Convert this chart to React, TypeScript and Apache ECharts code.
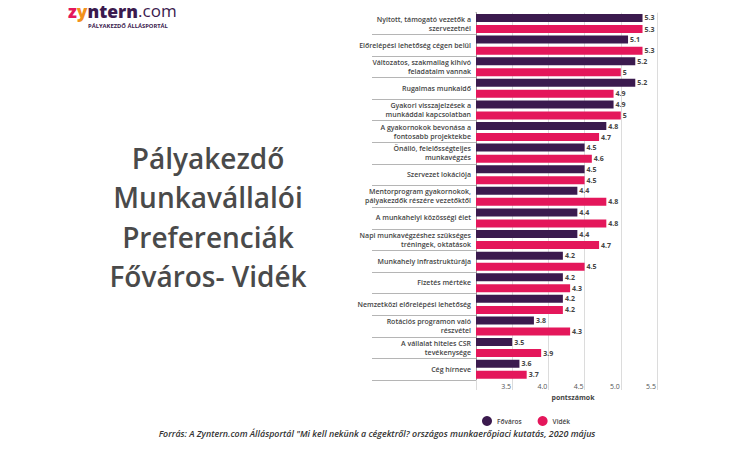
import React, { useEffect, useRef } from "react";
import * as echarts from "echarts";

const categories = [
  "Nyitott, támogató vezetők a\nszervezetnél",
  "Előrelépési lehetőség cégen belül",
  "Változatos, szakmailag kihívó\nfeladataim vannak",
  "Rugalmas munkaidő",
  "Gyakori visszajelzések a\nmunkáddal kapcsolatban",
  "A gyakornokok bevonása a\nfontosabb projektekbe",
  "Önálló, felelősségteljes\nmunkavégzés",
  "Szervezet lokációja",
  "Mentorprogram gyakornokok,\npályakezdők részére vezetőktől",
  "A munkahelyi közösségi élet",
  "Napi munkavégzéshez szükséges\ntréningek, oktatások",
  "Munkahely infrastruktúrája",
  "Fizetés mértéke",
  "Nemzetközi előrelépési lehetőség",
  "Rotációs programon való\nrészvétel",
  "A vállalat hiteles CSR\ntevékenysége",
  "Cég hírneve",
];

const fovaros = [5.3, 5.1, 5.2, 5.2, 4.9, 4.8, 4.5, 4.5, 4.4, 4.4, 4.4, 4.2, 4.2, 4.2, 3.8, 3.5, 3.6];
const videk = [5.3, 5.3, 5.0, 4.9, 5.0, 4.7, 4.6, 4.5, 4.8, 4.8, 4.7, 4.5, 4.3, 4.2, 4.3, 3.9, 3.7];

const seriesNames = ["Főváros", "Vidék"];
const axisName = "pontszámok";
const titleLines = ["Pályakezdő", "Munkavállalói", "Preferenciák", "Főváros- Vidék"];
const sourceText =
  "Forrás: A Zyntern.com Állásportál \"Mi kell nekünk a cégektről? országos munkaerőpiaci kutatás, 2020 május";

const DARK = "#3b1a4e";
const PINK = "#e4175b";
const FONT = "'Open Sans', sans-serif";

export default function App() {
  const ref = useRef<HTMLDivElement>(null);
  useEffect(() => {
    if (!ref.current) return;
    const chart = echarts.init(ref.current, undefined, { renderer: "svg" });
    const valueLabel = {
      show: true,
      position: "right" as const,
      distance: 2,
      fontSize: 7,
      fontWeight: "bold" as const,
      color: "#444",
      fontFamily: FONT,
    };
    chart.setOption({
      animation: false,
      backgroundColor: "#ffffff",
      textStyle: { fontFamily: FONT },
      grid: { left: 476, right: 93, top: 12.7, bottom: 71, containLabel: false },
      legend: {
        data: seriesNames,
        left: 477,
        top: 411,
        icon: "circle",
        itemWidth: 10,
        itemHeight: 10,
        itemGap: 16,
        textStyle: { fontSize: 6.5, color: "#444", fontFamily: FONT, fontWeight: 600 },
      },
      xAxis: {
        type: "value",
        min: 3,
        max: 5.5,
        interval: 0.5,
        axisLine: { show: false },
        axisTick: { show: true, length: 10, lineStyle: { color: "#dcdcdc" } },
        splitLine: { show: true, lineStyle: { color: "#dcdcdc", width: 1 } },
        axisLabel: {
          fontSize: 7,
          color: "#555",
          fontFamily: FONT,
          margin: 3,
          padding: [0, 12, 0, 0],
          formatter: (v: number) => (v === 3 ? "" : v.toFixed(1)),
        },
      },
      yAxis: {
        type: "category",
        data: categories,
        inverse: true,
        axisLine: { show: true, lineStyle: { color: "#999" } },
        axisTick: { show: true, length: 104, lineStyle: { color: "#b5b5b5" } },
        axisLabel: {
          fontSize: 7,
          fontWeight: 600,
          color: "#444",
          fontFamily: FONT,
          margin: 5,
          lineHeight: 9,
          align: "right",
        },
      },
      series: [
        {
          name: seriesNames[0],
          type: "bar",
          data: fovaros,
          barWidth: 8,
          barGap: "38%",
          itemStyle: { color: DARK },
          label: valueLabel,
        },
        {
          name: seriesNames[1],
          type: "bar",
          data: videk,
          barWidth: 8,
          barGap: "38%",
          itemStyle: { color: PINK },
          label: valueLabel,
        },
      ],
      graphic: [
        {
          type: "rect",
          shape: { x: 368, y: 10.5, width: 107.5, height: 4 },
          style: { fill: "#ffffff" },
          z: 10,
        },
        {
          type: "text",
          left: 68,
          top: 1.5,
          style: {
            text: "{z|z}{y|y}{n|ntern}{c|.com}",
            rich: {
              z: { fontSize: 17.5, fontWeight: 800, fill: PINK, fontFamily: FONT, lineHeight: 14 },
              y: { fontSize: 17.5, fontWeight: 800, fill: "#f2911b", fontFamily: FONT, lineHeight: 14 },
              n: { fontSize: 17.5, fontWeight: 800, fill: DARK, fontFamily: FONT, lineHeight: 14 },
              c: { fontSize: 17, fontWeight: 400, fill: DARK, fontFamily: FONT, lineHeight: 14 },
            },
          },
        },
        {
          type: "text",
          left: 88,
          top: 23,
          style: {
            text: "PÁLYAKEZDŐ ÁLLÁSPORTÁL",
            fontSize: 5.8,
            fontWeight: 700,
            fill: DARK,
            fontFamily: FONT,
          },
        },
        ...titleLines.map((t, i) => ({
          type: "text",
          x: 208,
          y: 158 + i * 39.3,
          style: {
            text: t,
            fontSize: 28,
            fontWeight: 600,
            fill: "#4a4a4a",
            fontFamily: FONT,
            align: "center",
            verticalAlign: "middle",
          },
        })),
        {
          type: "text",
          x: 573,
          y: 397,
          style: {
            text: axisName,
            fontSize: 7,
            fontWeight: 700,
            fill: "#444",
            fontFamily: FONT,
            align: "center",
            verticalAlign: "middle",
          },
        },
        {
          type: "text",
          x: 377,
          y: 433,
          style: {
            text: sourceText,
            fontSize: 8.9,
            fontWeight: 600,
            fontStyle: "italic",
            fill: "#333",
            fontFamily: FONT,
            align: "center",
            verticalAlign: "middle",
          },
        },
      ],
    });
    return () => chart.dispose();
  }, []);
  return (
    <div
      ref={ref}
      style={{ position: "fixed", left: 0, top: 0, width: 750, height: 451 }}
    />
  );
}
